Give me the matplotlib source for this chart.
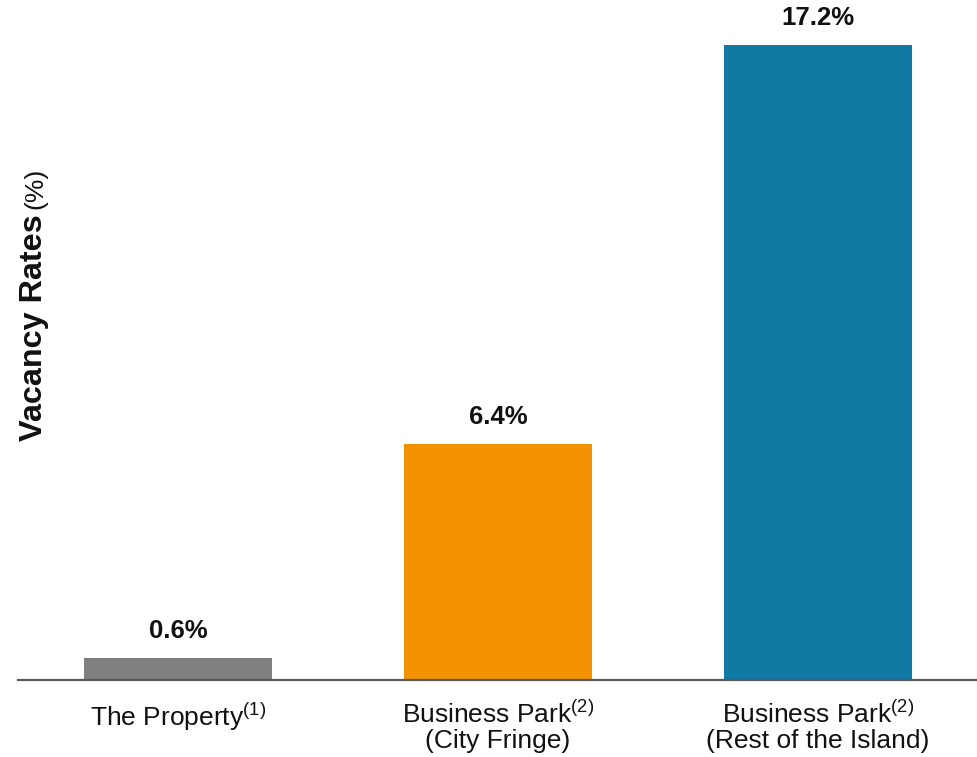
import matplotlib
matplotlib.use("Agg")
import matplotlib.pyplot as plt

plt.rcParams['font.family'] = ['Liberation Sans', 'DejaVu Sans']
plt.rcParams['mathtext.fontset'] = 'custom'
plt.rcParams['mathtext.rm'] = 'Liberation Sans'
plt.rcParams['mathtext.it'] = 'Liberation Sans'
plt.rcParams['mathtext.bf'] = 'Liberation Sans:bold'

categories = ["The Property$^{(1)}$",
              "Business Park$^{(2)}$\n(City Fringe)",
              "Business Park$^{(2)}$\n(Rest of the Island)"]
values = [0.6, 6.4, 17.2]
value_labels = ["0.6%", "6.4%", "17.2%"]
colors = ["#808080", "#F29200", "#107AA4"]

W, H = 978, 757
fig = plt.figure(figsize=(W / 100, H / 100), dpi=100)
ax = fig.add_axes([18 / W, (H - 680) / H, 960 / W, 680 / H])

x = list(range(len(values)))
ax.bar(x, values, width=0.5875, color=colors, zorder=2)
ax.set_xlim(-0.5, 2.5)
ax.set_ylim(0, 18.43)

for xi, v, lab in zip(x, values, value_labels):
    ax.annotate(lab, (xi, v), xytext=(0, 11), textcoords="offset points",
                ha="center", va="bottom", fontsize=18.5, fontweight="bold", color="#111111")

ax.set_xticks(x)
ax.set_xticklabels(categories, fontsize=19, multialignment="center", color="#111111",
                   linespacing=1.05)
ax.tick_params(axis="x", length=0, pad=15)
ax.set_yticks([])
for s in ["top", "right", "left"]:
    ax.spines[s].set_visible(False)
ax.spines["bottom"].set_color("#595959")
ax.spines["bottom"].set_linewidth(1.6)

# y label: bold part + regular part
t1 = fig.text(34 / W, (H - 441) / H, "Vacancy Rates", rotation=90, ha="center", va="bottom",
              fontsize=23.3, fontweight="bold", color="#111111")
fig.canvas.draw()
bb = t1.get_window_extent()
fig.text(35.5 / W, (bb.y1 + 5) / H, "(%)", rotation=90, ha="center", va="bottom",
         fontsize=19, color="#111111")

fig.savefig("out.png", dpi=100)
